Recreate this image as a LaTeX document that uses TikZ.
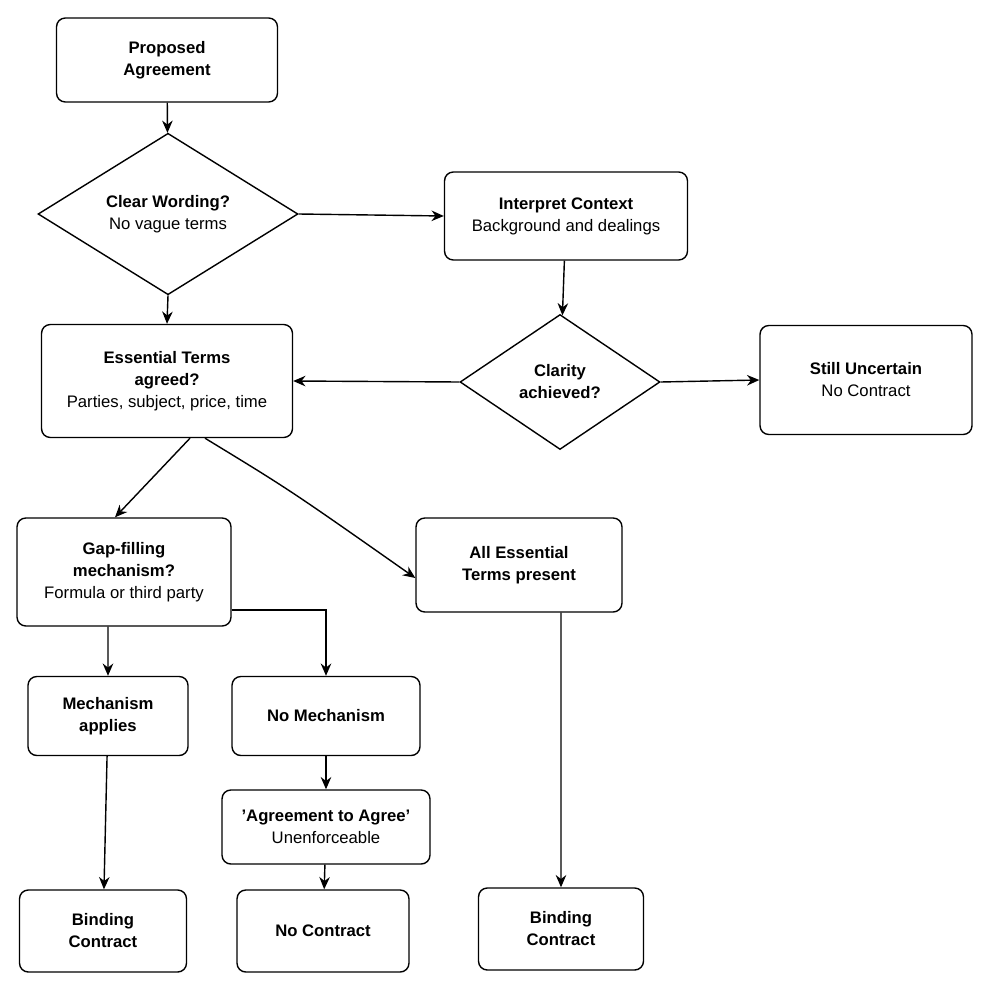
\documentclass[tikz,border=0pt]{standalone}
\usepackage{fontspec}
\setmainfont{Liberation Sans}
\usetikzlibrary{shapes.geometric, arrows.meta, positioning}

\begin{document}
\begin{tikzpicture}[x=0.02cm,y=-0.02cm,
		font=\fontsize{9.5}{12.5}\selectfont,
		box/.style={rectangle,draw,thick,rounded corners=5pt,align=center,inner sep=2pt},
		dec/.style={diamond,draw,thick,align=center,inner sep=0pt},
		arr/.style={thick,-{Stealth[length=7pt,width=6pt]}}]
		
		\useasboundingbox (0,0) rectangle (990,990);
		
		\node[box,minimum width=4.42cm,minimum height=1.68cm] (PA) at (167,60) {\textbf{Proposed}\\\textbf{Agreement}};
		\node[dec,minimum width=5.2cm,minimum height=3.04cm] (CW) at (168,214) {\textbf{Clear Wording?}\\No vague terms};
		\node[box,minimum width=4.86cm,minimum height=1.76cm] (IC) at (566,216) {\textbf{Interpret Context}\\Background and dealings};
		\node[dec,minimum width=4cm,minimum height=2.7cm] (CA) at (560,382) {\textbf{Clarity}\\\textbf{achieved?}};
		\node[box,minimum width=5.02cm,minimum height=2.26cm] (ET) at (167,381) {\textbf{Essential Terms}\\\textbf{agreed?}\\Parties, subject, price, time};
		\node[box,minimum width=4.24cm,minimum height=2.18cm] (SU) at (866,380) {\textbf{Still Uncertain}\\No Contract};
		
		\node[box,minimum width=4.28cm,minimum height=2.16cm] (GF) at (124,572) {\textbf{Gap-filling}\\\textbf{mechanism?}\\Formula or third party};
		\node[box,minimum width=4.12cm,minimum height=1.88cm] (AE) at (519,565) {\textbf{All Essential}\\\textbf{Terms present}};
		\node[box,minimum width=3.2cm,minimum height=1.58cm] (MA) at (108,716) {\textbf{Mechanism}\\\textbf{applies}};
		\node[box,minimum width=3.76cm,minimum height=1.58cm] (NM) at (326,716) {\textbf{No Mechanism}};
		\node[box,minimum width=4.16cm,minimum height=1.48cm] (AA) at (326,827) {\textbf{'Agreement to Agree'}\\Unenforceable};
		\node[box,minimum width=3.34cm,minimum height=1.64cm] (BL) at (103,931) {\textbf{Binding}\\\textbf{Contract}};
		\node[box,minimum width=3.44cm,minimum height=1.64cm] (NC) at (323,931) {\textbf{No Contract}};
		\node[box,minimum width=3.3cm,minimum height=1.64cm] (BR) at (561,929) {\textbf{Binding}\\\textbf{Contract}};
		
		\draw[arr] (PA) -- (CW);
		\draw[arr] (CW.east) -- (IC.west);
		\draw[arr] (CW.south) -- (ET.north);
		\draw[arr] (IC) -- (CA);
		\draw[arr] (CA.west) -- (ET.east);
		\draw[arr] (CA.east) -- (SU.west);
		
		\draw[arr] ([xshift=0.46cm]ET.south) -- ([xshift=-0.18cm]GF.north);
		\draw[arr] ([xshift=0.76cm]ET.south) .. controls (290,490) .. ([yshift=-0.26cm]AE.west);
		\draw[arr] ([yshift=-0.76cm]GF.east) -| (NM.north);
		\draw[arr] ([xshift=-0.32cm]GF.south) -- (MA.north);
		\draw[arr] (MA) -- (BL);
		\draw[arr] (NM) -- (AA);
		\draw[arr] (AA) -- (NC);
		\draw[arr] ([xshift=0.84cm]AE.south) -- (BR.north);
		
	\end{tikzpicture}
\end{document}
